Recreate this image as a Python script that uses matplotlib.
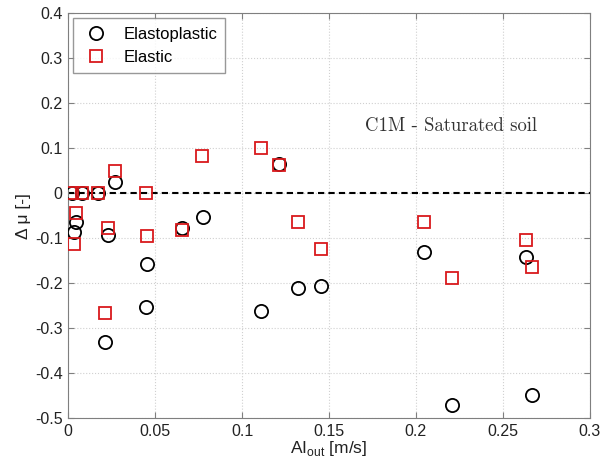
import matplotlib
matplotlib.use('Agg')
import matplotlib.pyplot as plt
from matplotlib.ticker import FormatStrFormatter

# Elastoplastic (black circles)
ep_x = [0.0025, 0.008, 0.017, 0.0044, 0.0034, 0.027, 0.0232, 0.0213, 0.0456, 0.0446,
        0.0657, 0.0778, 0.1107, 0.121, 0.132, 0.1454, 0.2046, 0.2205, 0.2636, 0.267]
ep_y = [0.0, 0.0, 0.0, -0.064, -0.087, 0.025, -0.092, -0.330, -0.158, -0.253,
        -0.077, -0.053, -0.262, 0.066, -0.210, -0.206, -0.130, -0.471, -0.142, -0.449]

# Elastic (red squares)
el_x = [0.0025, 0.008, 0.017, 0.0044, 0.0034, 0.027, 0.0232, 0.0213, 0.0446, 0.0456,
        0.0657, 0.0772, 0.1107, 0.121, 0.132, 0.1454, 0.2046, 0.2205, 0.2636, 0.267]
el_y = [0.0, 0.0, 0.0, -0.044, -0.113, 0.050, -0.078, -0.266, 0.0, -0.094,
        -0.082, 0.083, 0.100, 0.062, -0.064, -0.124, -0.065, -0.188, -0.104, -0.164]

x_ticks = [0, 0.05, 0.1, 0.15, 0.2, 0.25, 0.3]
y_ticks = [-0.5, -0.4, -0.3, -0.2, -0.1, 0, 0.1, 0.2, 0.3, 0.4]

plt.rcParams.update({'font.family': ['Liberation Sans', 'DejaVu Sans'],
                     'axes.unicode_minus': False,
                     'mathtext.fontset': 'custom',
                     'mathtext.rm': 'Liberation Sans',
                     'mathtext.sf': 'Liberation Sans',
                     'font.size': 10})

fig = plt.figure(figsize=(6.03, 4.72), dpi=100)
ax = fig.add_axes([0.113, 0.114, 0.865, 0.858])

frame = '#7f7f7f'
ax.axhline(0, color='black', linestyle='--', linewidth=1.5, dashes=(3, 2), zorder=2)
ax.plot(ep_x, ep_y, 'o', markersize=9.5, markerfacecolor='none', markeredgecolor='black',
        markeredgewidth=1.3, label='Elastoplastic', zorder=3)
ax.plot(el_x, el_y, 's', markersize=8.5, markerfacecolor='none', markeredgecolor='#d9191c',
        markeredgewidth=1.3, label='Elastic', zorder=4)

ax.set_xlim(0, 0.3)
ax.set_ylim(-0.5, 0.4)
ax.set_xticks(x_ticks)
ax.set_yticks(y_ticks)
ax.xaxis.set_major_formatter(FormatStrFormatter('%g'))
ax.yaxis.set_major_formatter(FormatStrFormatter('%g'))
ax.grid(True, color='#d0d0d0', linestyle=':', linewidth=0.8)
ax.tick_params(direction='in', top=True, right=True, color=frame, length=4,
               labelsize=11.5, labelcolor='#222222', pad=4)
for s in ax.spines.values():
    s.set_color(frame)

ax.set_xlabel(r'AI$_{\mathsf{out}}$ [m/s]', fontsize=12.5, labelpad=0, color='#222222')
ax.set_ylabel('\u0394 \u03bc [-]', fontsize=12.5, labelpad=3, color='#222222')

ax.text(0.22, 0.149, 'C1M - Saturated soil', family='cmr10', fontsize=13.5,
        ha='center', va='center', color='#333333')

leg = ax.legend(loc='upper left', fontsize=12, frameon=True, fancybox=False,
                edgecolor=frame, borderaxespad=0.3, handletextpad=0.7,
                borderpad=0.5, labelspacing=0.5, handlelength=1.8)
leg.get_frame().set_linewidth(1.0)

fig.savefig('out.png', dpi=100)
